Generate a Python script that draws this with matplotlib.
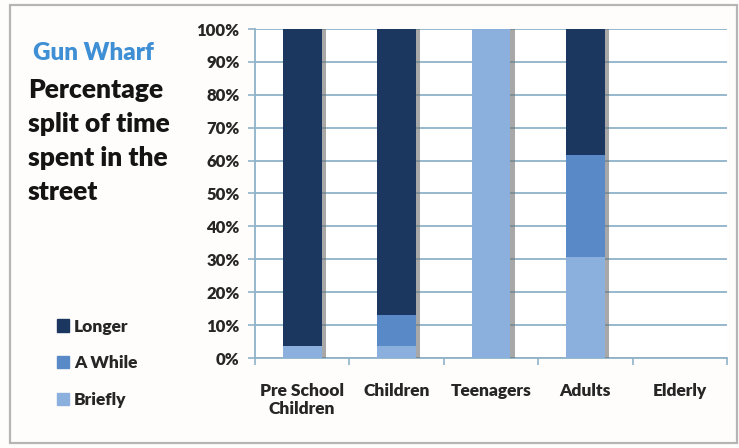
import matplotlib
matplotlib.use("Agg")
import matplotlib.pyplot as plt
import matplotlib.patheffects as pe
from matplotlib.patches import Rectangle, Patch
import numpy as np

plt.rcParams['font.family'] = ['Lato', 'DejaVu Sans']
BOLD = "heavy"

categories = ["Pre School\nChildren", "Children", "Teenagers", "Adults", "Elderly"]
briefly = [3.5, 3.5, 100.0, 30.8, 0.0]
a_while = [0.0, 9.5, 0.0, 30.8, 0.0]
longer = [96.5, 87.0, 0.0, 38.4, 0.0]
yticks = [0, 10, 20, 30, 40, 50, 60, 70, 80, 90, 100]
ytick_labels = [f"{v}%" for v in yticks]

c_longer = "#1b365f"
c_while = "#5a89c8"
c_brief = "#8cb0de"
grid_c = "#8fb3c9"
text_c = "#262626"

fig = plt.figure(figsize=(7.39, 4.48), dpi=100)
fig.patch.set_facecolor("#fffdfc")

# outer frame around the chart
fig.patches.append(Rectangle((10 / 739, 5 / 448), 727 / 739, 438 / 448,
                             transform=fig.transFigure, fill=False,
                             edgecolor="#b5b5b5", lw=1.6))

ax = fig.add_axes([255 / 739, 1 - 358 / 448, 472 / 739, 329 / 448])
ax.set_facecolor("white")

x = np.arange(len(categories))
w = 0.41
shadow = [pe.SimplePatchShadow(offset=(3, 0), shadow_rgbFace="#6f6f6f", alpha=0.6), pe.Normal()]
b1 = ax.bar(x, briefly, w, color=c_brief, zorder=3)
b2 = ax.bar(x, a_while, w, bottom=briefly, color=c_while, zorder=3)
b3 = ax.bar(x, longer, w, bottom=np.add(briefly, a_while), color=c_longer, zorder=3)
for cont in (b1, b2, b3):
    for p in cont:
        if p.get_height() > 0:
            p.set_path_effects(shadow)

ax.set_xlim(-0.5, len(categories) - 0.5)
ax.set_ylim(0, 100)
ax.set_yticks(yticks)
ax.set_yticklabels(ytick_labels)
ax.yaxis.grid(True, color=grid_c, lw=1.3, zorder=0)
ax.set_axisbelow(True)

ax.set_xticks(np.arange(len(categories) + 1) - 0.5, minor=False)
ax.set_xticklabels([])
ax.set_xticks(x, minor=True)
ax.set_xticklabels(categories, minor=True, fontsize=12.5, fontweight=BOLD, color=text_c,
                   linespacing=1.15)
ax.tick_params(axis="x", which="major", length=5, color=grid_c, width=1.2, direction="out")
ax.tick_params(axis="x", which="minor", length=0, pad=18)
ax.tick_params(axis="y", length=5, color=grid_c, width=1.2, pad=6,
               labelsize=12, labelcolor=text_c)
for t in ax.get_yticklabels():
    t.set_fontweight(BOLD)

for s in ("top", "right"):
    ax.spines[s].set_visible(False)
for s in ("left", "bottom"):
    ax.spines[s].set_color(grid_c)
    ax.spines[s].set_linewidth(1.3)

fig.text(33 / 739, 1 - 53 / 448, "Gun Wharf", color="#3f8fd5", fontsize=17.5,
         fontweight=BOLD, va="center", ha="left")
for i, line in enumerate(["Percentage", "split of time", "spent in the", "street"]):
    fig.text(28 / 739, 1 - (90 + 34 * i) / 448, line, color="#141414", fontsize=19,
             fontweight=BOLD, va="center", ha="left")

handles = [Patch(color=c_longer), Patch(color=c_while), Patch(color=c_brief)]
leg = fig.legend(handles=handles, labels=["Longer", "A While", "Briefly"],
                 loc="upper left", bbox_to_anchor=(41 / 739, 1 - 303 / 448),
                 frameon=False, fontsize=12.5, labelspacing=1.2,
                 handlelength=0.7, handleheight=0.7, handletextpad=0.3)
for t in leg.get_texts():
    t.set_fontweight(BOLD)
    t.set_color(text_c)

fig.savefig("out.png", dpi=100, facecolor=fig.get_facecolor())
